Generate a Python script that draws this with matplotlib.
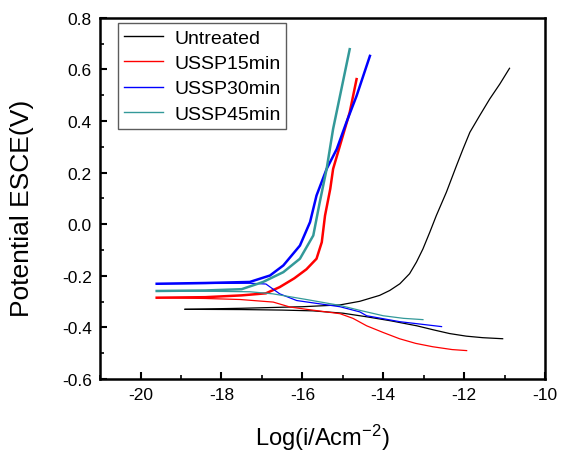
import matplotlib
matplotlib.use("Agg")
import matplotlib.pyplot as plt
from matplotlib.ticker import MultipleLocator

plt.rcParams['font.family'] = ['Liberation Sans', 'DejaVu Sans']

labels = ["Untreated", "USSP15min", "USSP30min", "USSP45min"]
colors = ["#000000", "#ff0000", "#0000ff", "#339999"]

# Untreated
un_an_x = [-18.9, -17.5, -16.0, -15.07, -14.58, -14.09, -13.84, -13.59, -13.35, -13.18, -13.02, -12.85, -12.69,
           -12.44, -12.19, -12.03, -11.86, -11.62, -11.37, -11.12, -10.88]
un_an_y = [-0.330, -0.326, -0.320, -0.313, -0.299, -0.276, -0.257, -0.231, -0.192, -0.147, -0.096, -0.031, 0.033,
           0.124, 0.227, 0.291, 0.356, 0.420, 0.485, 0.543, 0.604]
un_ca_x = [-18.9, -17.5, -16.5, -15.74, -15.0, -14.41, -13.8, -13.17, -12.75, -12.36, -11.95, -11.54, -11.05]
un_ca_y = [-0.330, -0.331, -0.333, -0.336, -0.345, -0.359, -0.375, -0.394, -0.410, -0.424, -0.434, -0.440, -0.444]

# USSP15min
r_an_x = [-19.6, -18.4, -17.5, -16.9, -16.56, -16.2, -15.9, -15.65, -15.52, -15.44, -15.31, -15.24, -14.95, -14.83, -14.66]
r_an_y = [-0.285, -0.283, -0.276, -0.268, -0.244, -0.21, -0.175, -0.134, -0.070, 0.033, 0.137, 0.214, 0.369, 0.433, 0.562]
r_ca_x = [-19.6, -18.4, -17.54, -16.72, -16.31, -15.9, -15.07, -14.75, -14.41, -14.0, -13.6, -13.2, -12.78, -12.3, -11.94]
r_ca_y = [-0.285, -0.288, -0.292, -0.302, -0.321, -0.330, -0.347, -0.365, -0.394, -0.420, -0.444, -0.462, -0.475, -0.486, -0.490]

# USSP30min
b_an_x = [-19.6, -18.4, -17.3, -16.8, -16.47, -16.06, -15.81, -15.65, -15.40, -15.15, -14.91, -14.66, -14.33]
b_an_y = [-0.231, -0.228, -0.224, -0.199, -0.160, -0.083, 0.008, 0.111, 0.214, 0.291, 0.395, 0.497, 0.652]
b_ca_x = [-19.6, -18.4, -17.3, -16.9, -16.56, -16.14, -15.07, -14.58, -14.41, -13.59, -12.56]
b_ca_y = [-0.231, -0.230, -0.229, -0.232, -0.270, -0.296, -0.320, -0.340, -0.355, -0.378, -0.397]

# USSP45min
t_an_x = [-19.6, -18.4, -17.5, -16.97, -16.47, -16.06, -15.73, -15.57, -15.40, -15.24, -15.07, -14.83]
t_an_y = [-0.259, -0.257, -0.252, -0.224, -0.186, -0.134, -0.044, 0.085, 0.214, 0.369, 0.497, 0.678]
t_ca_x = [-19.6, -18.4, -17.3, -16.73, -15.9, -15.07, -14.58, -14.0, -13.5, -13.02]
t_ca_y = [-0.259, -0.260, -0.262, -0.270, -0.292, -0.315, -0.334, -0.355, -0.365, -0.370]

series = [
    (un_an_x, un_an_y, un_ca_x, un_ca_y),
    (r_an_x, r_an_y, r_ca_x, r_ca_y),
    (b_an_x, b_an_y, b_ca_x, b_ca_y),
    (t_an_x, t_an_y, t_ca_x, t_ca_y),
]

fig = plt.figure(figsize=(5.62, 4.56), dpi=100)
ax = fig.add_axes([0.178, 0.1667, 0.792, 0.7923])

for i, (ax_, ay_, cx_, cy_) in enumerate(series):
    lw_an = 0.9 if i == 0 else 1.8
    ax.plot(ax_, ay_, color=colors[i], lw=lw_an, label=labels[i])
    ax.plot(cx_, cy_, color=colors[i], lw=0.9)

ax.set_xlim(-21, -10)
ax.set_ylim(-0.6, 0.8)
ax.xaxis.set_minor_locator(MultipleLocator(1))
ax.yaxis.set_minor_locator(MultipleLocator(0.1))
ax.set_yticks([-0.6, -0.4, -0.2, 0.0, 0.2, 0.4, 0.6, 0.8])
ax.set_yticklabels(["-0.6", "-0.4", "-0.2", "0.0", "0.2", "0.4", "0.6", "0.8"])
ax.set_xticks([-20, -18, -16, -14, -12, -10])
ax.set_xticklabels(["-20", "-18", "-16", "-14", "-12", "-10"])
ax.tick_params(which='major', direction='in', length=5, width=1.5, labelsize=12.5, pad=6)
ax.tick_params(which='minor', direction='in', length=3, width=1.2)
for s in ax.spines.values():
    s.set_linewidth(1.8)

ax.set_xlabel(r'Log$\mathregular{(i/Acm^{-2})}$', fontsize=17)
ax.xaxis.set_label_coords(0.5, -0.118)
ax.set_ylabel('Potential ESCE(V)', fontsize=19)
ax.yaxis.set_label_coords(-0.149, 0.475)

leg = ax.legend(loc='upper left', bbox_to_anchor=(0.04, 0.985), fontsize=14,
                frameon=True, fancybox=False, handlelength=2.0, handletextpad=0.6,
                borderpad=0.3, labelspacing=0.4, borderaxespad=0.0)
leg.get_frame().set_edgecolor('#333333')
leg.get_frame().set_linewidth(1.0)
for line in leg.get_lines():
    line.set_linewidth(1.0)

fig.savefig("out.png", dpi=100)
